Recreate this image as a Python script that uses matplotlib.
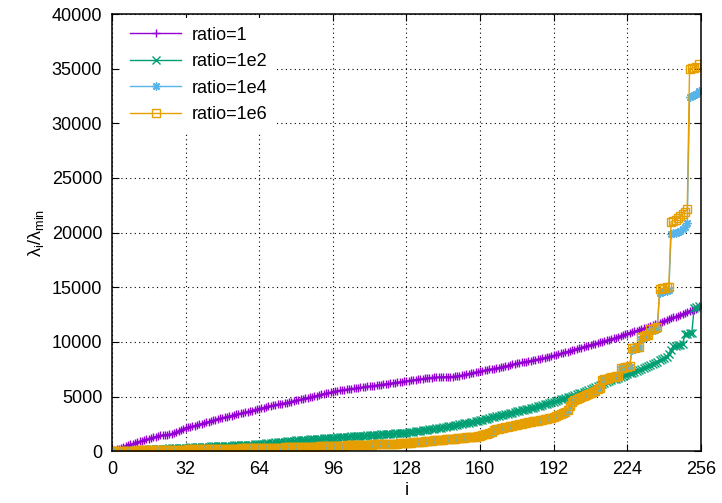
# Eigenvalue ratio curves for four conditioning ratios
import numpy as np
import matplotlib
matplotlib.use("Agg")
import matplotlib.pyplot as plt

labels = ["ratio=1", "ratio=1e2", "ratio=1e4", "ratio=1e6"]

ratio_1 = [
    1, 80, 160, 240, 320, 400, 480, 550, 620, 690, 760, 830, 900, 960, 1020, 1080,
    1140, 1200, 1260, 1320, 1380, 1440, 1480, 1500, 1520, 1540, 1580, 1650, 1730, 1820, 1920, 2020,
    2120, 2180, 2230, 2280, 2340, 2400, 2460, 2520, 2580, 2640, 2700, 2760, 2820, 2880, 2940, 3000,
    3060, 3110, 3160, 3210, 3260, 3310, 3360, 3410, 3460, 3510, 3560, 3610, 3660, 3710, 3760, 3820,
    3880, 3940, 3990, 4040, 4090, 4140, 4190, 4240, 4280, 4320, 4360, 4400, 4440, 4490, 4540, 4590,
    4640, 4690, 4740, 4790, 4840, 4890, 4940, 4990, 5040, 5090, 5140, 5190, 5240, 5290, 5340, 5390,
    5440, 5480, 5520, 5560, 5590, 5620, 5650, 5680, 5710, 5740, 5770, 5800, 5830, 5860, 5890, 5920,
    5950, 5980, 6010, 6040, 6070, 6100, 6130, 6160, 6190, 6220, 6250, 6280, 6310, 6340, 6370, 6400,
    6430, 6460, 6490, 6520, 6550, 6580, 6610, 6640, 6670, 6700, 6720, 6740, 6750, 6760, 6770, 6780,
    6790, 6800, 6810, 6820, 6830, 6840, 6860, 6900, 6950, 7000, 7050, 7100, 7150, 7200, 7240, 7280,
    7320, 7360, 7400, 7440, 7480, 7520, 7560, 7600, 7640, 7690, 7740, 7790, 7840, 7890, 7940, 7990,
    8040, 8080, 8120, 8160, 8200, 8240, 8280, 8320, 8360, 8400, 8440, 8490, 8540, 8590, 8640, 8700,
    8760, 8820, 8880, 8940, 9000, 9060, 9120, 9180, 9240, 9300, 9360, 9420, 9480, 9540, 9600, 9660,
    9720, 9780, 9840, 9900, 9960, 10020, 10080, 10140, 10200, 10260, 10330, 10400, 10470, 10540, 10610, 10680,
    10750, 10820, 10890, 10960, 11030, 11100, 11170, 11240, 11310, 11380, 11450, 11520, 11600, 11680, 11760, 11840,
    11920, 12000, 12080, 12160, 12240, 12320, 12400, 12480, 12560, 12640, 12720, 12800, 12880, 12960, 13040, 13250,
]

ratio_1e2 = [
    1, 10, 20, 30, 40, 50, 60, 70, 80, 90, 100, 110, 120, 130, 140, 150,
    160, 170, 180, 190, 200, 210, 220, 230, 240, 250, 260, 270, 280, 290, 300, 310,
    320, 330, 340, 350, 360, 370, 380, 390, 400, 410, 420, 430, 440, 450, 460, 470,
    480, 490, 500, 510, 520, 530, 540, 550, 560, 570, 580, 590, 600, 610, 620, 640,
    660, 680, 700, 720, 740, 760, 780, 800, 820, 840, 860, 880, 900, 920, 940, 960,
    980, 1000, 1015, 1030, 1045, 1060, 1075, 1090, 1105, 1120, 1135, 1150, 1165, 1180, 1195, 1210,
    1225, 1240, 1255, 1270, 1285, 1300, 1315, 1330, 1345, 1360, 1375, 1390, 1405, 1420, 1435, 1450,
    1465, 1480, 1495, 1510, 1525, 1540, 1555, 1570, 1585, 1600, 1615, 1630, 1645, 1660, 1675, 1690,
    1705, 1730, 1760, 1790, 1820, 1850, 1880, 1910, 1940, 1970, 2000, 2030, 2060, 2090, 2120, 2150,
    2180, 2220, 2260, 2300, 2340, 2380, 2420, 2460, 2500, 2540, 2580, 2620, 2660, 2700, 2740, 2790,
    2840, 2890, 2940, 2990, 3040, 3090, 3140, 3190, 3240, 3290, 3340, 3390, 3440, 3490, 3540, 3590,
    3640, 3690, 3740, 3790, 3840, 3890, 3940, 3990, 4040, 4090, 4140, 4200, 4300, 4360, 4420, 4480,
    4540, 4600, 4700, 4760, 4820, 4880, 4940, 5000, 5060, 5120, 5200, 5280, 5360, 5440, 5520, 5600,
    5680, 5760, 5850, 5950, 6050, 6150, 6250, 6330, 6410, 6490, 6570, 6650, 6730, 6810, 6890, 6970,
    7050, 7130, 7200, 7280, 7360, 7440, 7520, 7600, 7700, 7800, 7900, 8000, 8100, 8200, 8300, 8400,
    8500, 8650, 8850, 9300, 9600, 9650, 9700, 9750, 9800, 10700, 10750, 10800, 10850, 13100, 13150, 13250,
]

ratio_1e4 = [
    1, 8, 14, 20, 26, 32, 38, 44, 50, 55, 60, 65, 70, 75, 80, 85,
    90, 94, 98, 102, 106, 110, 114, 118, 122, 126, 130, 134, 138, 142, 146, 150,
    154, 158, 162, 166, 170, 174, 178, 182, 186, 190, 194, 198, 202, 206, 210, 214,
    218, 222, 226, 230, 234, 238, 242, 246, 250, 254, 258, 262, 266, 270, 275, 280,
    285, 290, 295, 300, 305, 310, 315, 320, 325, 330, 336, 342, 348, 354, 360, 366,
    372, 378, 384, 390, 396, 402, 408, 414, 420, 426, 432, 438, 444, 450, 458, 466,
    474, 482, 490, 498, 506, 514, 522, 530, 538, 546, 554, 562, 570, 578, 586, 594,
    602, 610, 618, 626, 634, 642, 650, 658, 666, 674, 682, 690, 698, 706, 714, 722,
    740, 760, 780, 800, 820, 840, 860, 880, 900, 920, 940, 960, 980, 1000, 1020, 1040,
    1060, 1080, 1100, 1120, 1140, 1160, 1180, 1200, 1220, 1240, 1260, 1280, 1300, 1320, 1340, 1360,
    1420, 1480, 1540, 1600, 1660, 1760, 1900, 2000, 2050, 2100, 2150, 2200, 2250, 2300, 2350, 2400,
    2440, 2480, 2520, 2560, 2600, 2640, 2680, 2720, 2760, 2800, 2840, 2880, 2920, 2960, 3000, 3060,
    3120, 3200, 3300, 3400, 3500, 3600, 3800, 4100, 4500, 4650, 4750, 4850, 4950, 5050, 5150, 5250,
    5350, 5450, 5550, 5650, 5800, 6550, 6600, 6650, 6700, 6750, 6800, 6850, 6900, 7550, 7600, 7650,
    7700, 7750, 9300, 9350, 9400, 9450, 10300, 10400, 10450, 10500, 11000, 11050, 11100, 11200, 14500, 14600,
    14650, 14700, 14750, 19900, 19950, 20000, 20050, 20150, 20300, 20500, 20900, 32400, 32500, 32600, 32700, 33000,
]

ratio_1e6 = [
    1, 8, 14, 20, 26, 32, 38, 44, 50, 55, 60, 65, 70, 75, 80, 85,
    90, 94, 98, 102, 106, 110, 114, 118, 122, 126, 130, 134, 138, 142, 146, 150,
    154, 158, 162, 166, 170, 174, 178, 182, 186, 190, 194, 198, 202, 206, 210, 214,
    218, 222, 226, 230, 234, 238, 242, 246, 250, 254, 258, 262, 266, 270, 275, 280,
    285, 290, 295, 300, 305, 310, 315, 320, 325, 330, 336, 342, 348, 354, 360, 366,
    372, 378, 384, 390, 396, 402, 408, 414, 420, 426, 432, 438, 444, 450, 458, 466,
    474, 482, 490, 498, 506, 514, 522, 530, 538, 546, 554, 562, 570, 578, 586, 594,
    602, 610, 618, 626, 634, 642, 650, 658, 666, 674, 682, 690, 698, 706, 714, 722,
    740, 760, 780, 800, 820, 840, 860, 880, 900, 920, 940, 960, 980, 1000, 1020, 1040,
    1060, 1080, 1100, 1120, 1140, 1160, 1180, 1200, 1220, 1240, 1260, 1280, 1300, 1320, 1340, 1360,
    1420, 1480, 1540, 1600, 1660, 1760, 1900, 2000, 2050, 2100, 2150, 2200, 2250, 2300, 2350, 2400,
    2440, 2480, 2520, 2560, 2600, 2640, 2680, 2720, 2760, 2800, 2840, 2880, 2920, 2960, 3000, 3060,
    3120, 3200, 3300, 3400, 3500, 3600, 3800, 4100, 4500, 4650, 4750, 4850, 4950, 5050, 5150, 5250,
    5350, 5450, 5550, 5650, 5800, 6550, 6600, 6650, 6700, 6750, 6800, 6850, 6900, 7600, 7650, 7700,
    7750, 7800, 9400, 9450, 9500, 9550, 10450, 10550, 10600, 10650, 11150, 11200, 11300, 11400, 14850, 14900,
    14950, 15000, 15050, 21000, 21100, 21200, 21300, 21500, 21700, 21900, 22200, 35000, 35050, 35100, 35150, 35400,
]

colors = ["#9400d3", "#009e73", "#56b4e9", "#e69f00"]
# gnuplot point types: plus, cross, asterisk, open square
markers = ["+", "x", (8, 2, 0), "s"]

plt.rcParams["font.family"] = ["Liberation Sans", "DejaVu Sans"]
plt.rcParams["font.size"] = 13

fig = plt.figure(figsize=(7.22, 5.03), dpi=100)
ax = fig.add_axes([0.155, 0.103, 0.816, 0.869])

series = [ratio_1, ratio_1e2, ratio_1e4, ratio_1e6]
for vals, lab, c, m in zip(series, labels, colors, markers):
    x = np.arange(len(vals))
    if m == "s":
        ax.plot(x, vals, color=c, lw=1, marker=m, ms=5.5, mfc="none", mew=1, label=lab)
    else:
        ax.plot(x, vals, color=c, lw=1, marker=m, ms=6, mew=1, label=lab)

ax.set_xlim(0, 256)
ax.set_ylim(0, 40000)
ax.set_xticks(np.arange(0, 257, 32))
ax.set_yticks(np.arange(0, 40001, 5000))
ax.tick_params(direction="in", top=True, right=True, length=5, labelsize=13, pad=7)
ax.grid(True, color="black", linestyle=(0, (1, 3)), linewidth=0.8)
for s in ax.spines.values():
    s.set_linewidth(1.1)

ax.set_xlabel("i", labelpad=3)
ax.set_ylabel(r"$\mathregular{\lambda_i/\lambda_{min}}$", labelpad=4)

# legend sits on an opaque white patch, no border, like gnuplot's opaque key
leg = ax.legend(loc="upper left", frameon=True, facecolor="white", edgecolor="none",
                framealpha=1, fancybox=False, handlelength=2.8, handletextpad=0.6,
                labelspacing=0.52, borderpad=0.5, borderaxespad=0.2,
                bbox_to_anchor=(0.01, 1.0), numpoints=1)

fig.savefig("out.png", dpi=100)
